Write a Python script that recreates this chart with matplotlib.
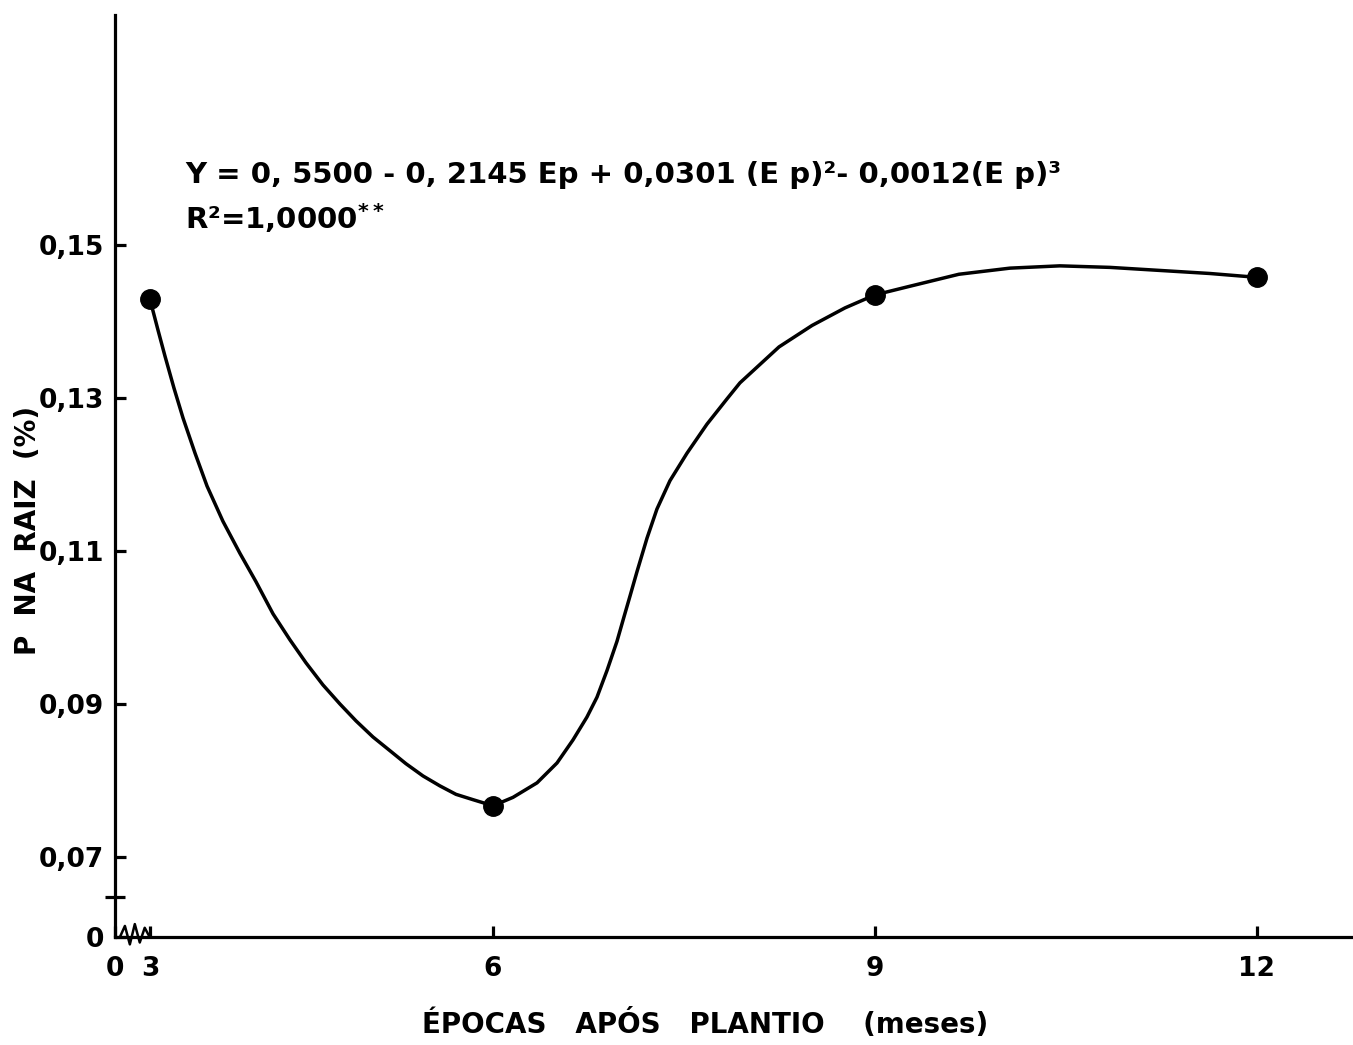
import numpy as np
from matplotlib import pyplot as plt

# observed points (months after planting, P in root %)
epocas = [3, 6, 9, 12]
p_raiz = [0.143, 0.0767, 0.1435, 0.1458]

# hand drawn curve
curve_x = [3.000, 3.070, 3.131, 3.210, 3.289, 3.394, 3.499, 3.638, 3.787, 3.927,
           4.076, 4.224, 4.364, 4.513, 4.662, 4.802, 4.950, 5.099, 5.239, 5.388,
           5.536, 5.676, 5.825, 6.000,
           6.157, 6.346, 6.503, 6.628, 6.738, 6.817, 6.896, 6.974, 7.029, 7.076,
           7.131, 7.210, 7.288, 7.390, 7.524, 7.681, 7.838, 7.940, 8.247, 8.506,
           8.765, 9.000,
           9.267, 9.660, 10.061, 10.453, 10.846, 11.239, 11.632, 12.000]
curve_y = [0.1429, 0.1389, 0.1355, 0.1313, 0.1274, 0.1228, 0.1185, 0.1139, 0.1097, 0.1060,
           0.1018, 0.0984, 0.0954, 0.0925, 0.0900, 0.0878, 0.0857, 0.0839, 0.0822, 0.0806,
           0.0793, 0.0782, 0.0775, 0.0767,
           0.0778, 0.0797, 0.0823, 0.0853, 0.0883, 0.0909, 0.0944, 0.0982, 0.1014, 0.1041,
           0.1073, 0.1117, 0.1155, 0.1192, 0.1228, 0.1266, 0.1299, 0.1320, 0.1367, 0.1395,
           0.1418, 0.1435,
           0.1446, 0.1462, 0.1470, 0.1473, 0.1471, 0.1467, 0.1463, 0.1458]

xticks = [0, 3, 6, 9, 12]
xlabels = ['0', '3', '6', '9', '12']
yticks = [0, 0.07, 0.09, 0.11, 0.13, 0.15]
ylabels = ['0', '0,07', '0,09', '0,11', '0,13', '0,15']

equation = "Y = 0, 5500 - 0, 2145 Ep + 0,0301 (E p)²- 0,0012(E p)³"
r2 = "R²=1,0000$^{**}$"

plt.rcParams['font.family'] = ['DejaVu Sans']
plt.rcParams['font.weight'] = 'bold'
plt.rcParams['mathtext.default'] = 'bf'

# broken axes: piecewise linear scales
xk = [0, 3, 6, 15]
xt = [0, 35, 378, 378 + 9 * 127.3]
yk = [0, 0.07, 0.25]
yt = [0, 80, 80 + 0.18 * 7650]

def xfwd(v): return np.interp(v, xk, xt)
def xinv(v): return np.interp(v, xt, xk)
def yfwd(v): return np.interp(v, yk, yt)
def yinv(v): return np.interp(v, yt, yk)

fig = plt.figure(figsize=(13.53, 10.45), dpi=100)
ax = fig.add_axes([115 / 1353, 108 / 1045, 1238 / 1353, 922 / 1045])
ax.set_xscale('function', functions=(xfwd, xinv))
ax.set_yscale('function', functions=(yfwd, yinv))

ax.plot(curve_x, curve_y, color='black', lw=2.5, solid_capstyle='round',
        solid_joinstyle='round')
ax.plot(epocas, p_raiz, 'o', color='black', ms=14)

ax.set_xlim(0, 12.756)
ax.set_ylim(0, 0.1801)

ax.spines['right'].set_color('none')
ax.spines['top'].set_color('none')
ax.spines['left'].set_linewidth(2.3)
ax.spines['bottom'].set_linewidth(2.3)

ax.set_xticks(xticks)
ax.set_xticklabels(xlabels)
ax.set_yticks(yticks)
ax.set_yticklabels(ylabels)
ax.set_xticks([], minor=True)
ax.set_yticks([0.035], minor=True)
ax.tick_params(axis='both', which='major', direction='in', length=8, width=2.3,
               labelsize=19)
ax.tick_params(axis='x', which='major', pad=14)
ax.tick_params(axis='y', which='major', pad=8)
ax.tick_params(axis='y', which='minor', direction='inout', length=15, width=2.3)

# little squiggle for the x axis break
bx = [0.004, 0.008, 0.012, 0.016, 0.020, 0.024, 0.028]
by = [0.0, 0.012, -0.008, 0.014, -0.006, 0.010, 0.0]
ax.plot(bx, by, color='black', lw=1.8, transform=ax.transAxes, clip_on=False)

ax.text(70 / 1238, 1 - 160 / 922, equation, transform=ax.transAxes, fontsize=21,
        va='center', ha='left')
ax.text(70 / 1238, 1 - 203 / 922, r2, transform=ax.transAxes, fontsize=21,
        va='center', ha='left')

fig.text(28 / 1353, 1 - 530 / 1045, 'P  NA  RAIZ  (%)', rotation=90, fontsize=20,
         ha='center', va='center')
fig.text(705 / 1353, 1 - 1024 / 1045, 'ÉPOCAS   APÓS   PLANTIO    (meses)',
         fontsize=20, ha='center', va='center')

fig.savefig('out.png', dpi=100)
